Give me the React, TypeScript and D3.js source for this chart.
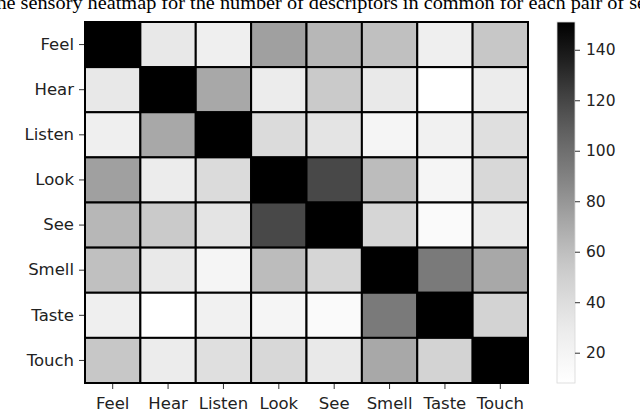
import React, { useEffect, useRef } from 'react';
import * as d3 from 'd3';

// categories (rows and columns share the same order)
const senses = ['Feel', 'Hear', 'Listen', 'Look', 'See', 'Smell', 'Taste', 'Touch'];

// number of descriptors in common, one row per sense
const feelRow = [151, 32, 26, 75, 64, 59, 26, 55];
const hearRow = [32, 151, 71, 28, 53, 31, 8, 28];
const listenRow = [26, 71, 151, 42, 35, 20, 24, 39];
const lookRow = [75, 28, 42, 151, 119, 61, 20, 44];
const seeRow = [64, 53, 35, 119, 151, 45, 14, 31];
const smellRow = [59, 31, 20, 61, 45, 151, 94, 71];
const tasteRow = [26, 8, 24, 20, 14, 94, 151, 47];
const touchRow = [55, 28, 39, 44, 31, 71, 47, 151];

const colorbarTicks = [20, 40, 60, 80, 100, 120, 140];
const titleText = 'The sensory heatmap for the number of descriptors in common for each pair of senses';

export default function App() {
  const ref = useRef<SVGSVGElement>(null);

  useEffect(() => {
    const width = 640;
    const height = 412;
    const plot = { left: 85, right: 528, top: 22, bottom: 383 };
    const bar = { left: 557, right: 575 };
    const font = 'DejaVu Sans';

    const rows = [feelRow, hearRow, listenRow, lookRow, seeRow, smellRow, tasteRow, touchRow];
    const cells = rows.flatMap((r, i) => r.map((v, j) => ({ row: senses[i], col: senses[j], v })));
    const all = cells.map((c) => c.v);
    const domain = [d3.min(all) as number, d3.max(all) as number];

    const svg = d3.select(ref.current).attr('width', width).attr('height', height);
    svg.selectAll('*').remove();

    const x = d3.scaleBand().domain(senses).range([plot.left, plot.right]);
    const y = d3.scaleBand().domain(senses).range([plot.top, plot.bottom]);
    const color = d3.scaleSequential(d3.interpolateGreys).domain(domain);

    // title, clipped by the top of the figure
    svg
      .append('text')
      .attr('x', -16)
      .attr('y', 9)
      .attr('textLength', 697)
      .attr('lengthAdjust', 'spacingAndGlyphs')
      .style('font-family', '"Liberation Serif", serif')
      .style('font-size', '19.5px')
      .attr('fill', '#000')
      .text(titleText);

    // cells
    svg
      .append('g')
      .selectAll('rect')
      .data(cells)
      .join('rect')
      .attr('x', (d) => x(d.col) as number)
      .attr('y', (d) => y(d.row) as number)
      .attr('width', x.bandwidth())
      .attr('height', y.bandwidth())
      .attr('fill', (d) => color(d.v))
      .attr('stroke', '#000')
      .attr('stroke-width', 2);

    // axes
    const yAxis = svg
      .append('g')
      .attr('transform', `translate(${plot.left - 1},0)`)
      .call(d3.axisLeft(y).tickSize(5).tickPadding(5));
    const xAxis = svg
      .append('g')
      .attr('transform', `translate(0,${plot.bottom + 1})`)
      .call(d3.axisBottom(x).tickSize(5).tickPadding(8));

    // colorbar
    const cb = d3.scaleLinear().domain(domain).range([plot.bottom, plot.top]);
    const defs = svg.append('defs');
    const grad = defs
      .append('linearGradient')
      .attr('id', 'cbar')
      .attr('x1', 0)
      .attr('y1', 1)
      .attr('x2', 0)
      .attr('y2', 0);
    d3.range(0, 1.0001, 0.05).forEach((t) => {
      grad.append('stop').attr('offset', t).attr('stop-color', d3.interpolateGreys(t));
    });
    svg
      .append('rect')
      .attr('x', bar.left)
      .attr('y', plot.top)
      .attr('width', bar.right - bar.left)
      .attr('height', plot.bottom - plot.top)
      .attr('fill', 'url(#cbar)')
      .attr('stroke', '#d8d8d8')
      .attr('stroke-width', 0.8);
    const cAxis = svg
      .append('g')
      .attr('transform', `translate(${bar.right},0)`)
      .call(d3.axisRight(cb).tickValues(colorbarTicks).tickSize(5).tickPadding(6));

    [yAxis, xAxis, cAxis].forEach((g) => {
      g.select('.domain').remove();
      g.selectAll('.tick line').attr('stroke', '#333').attr('stroke-width', 1);
      g.selectAll('.tick text')
        .attr('fill', '#222')
        .style('font-family', font)
        .style('font-size', '16.5px');
    });
    cAxis.selectAll('.tick text').style('font-size', '15.5px');
  }, []);

  return (
    <svg
      ref={ref}
      style={{ position: 'absolute', left: 0, top: 0, background: '#fff' }}
    />
  );
}
